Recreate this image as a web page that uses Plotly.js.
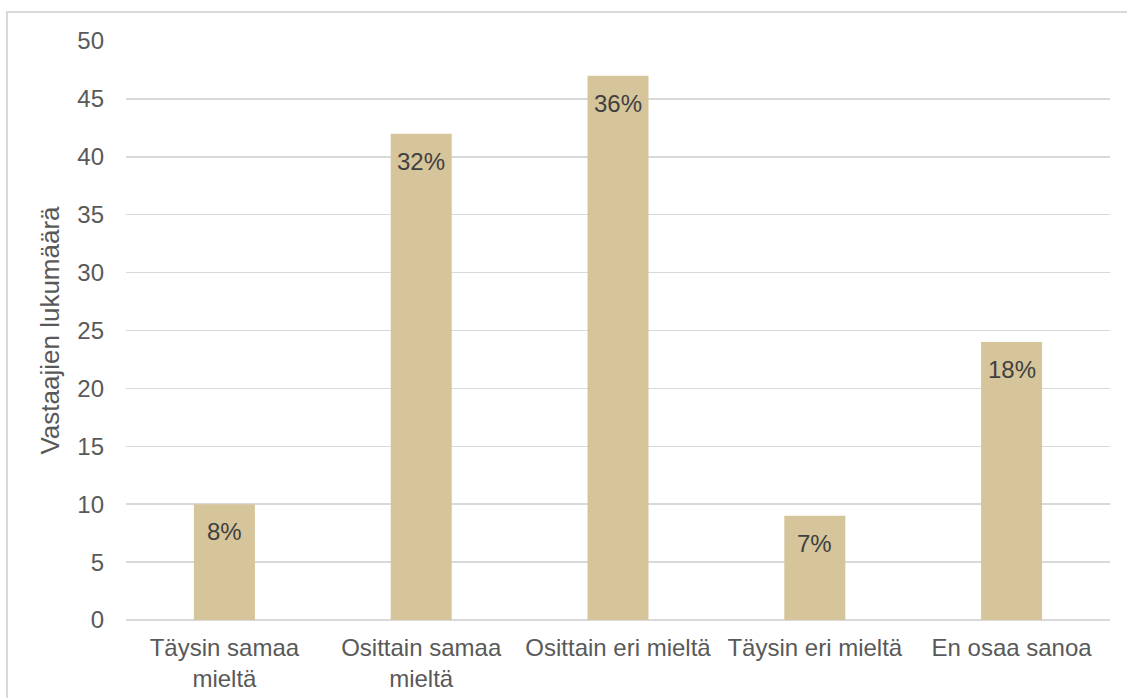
<!DOCTYPE html>
<html>
<head>
<meta charset="utf-8">
<script src="https://cdn.plot.ly/plotly-3.0.1.min.js"></script>
<style>
  html, body { margin: 0; padding: 0; background: #fff; }
  #wrap { position: relative; width: 1127px; height: 698px; overflow: hidden; }
  #chart { width: 1127px; height: 698px; }
  #frame { position: absolute; left: 6px; top: 11px; width: 1200px; height: 800px;
           border-left: 2px solid #d9d9d9; border-top: 2px solid #d9d9d9; pointer-events: none; }
</style>
</head>
<body>
<div id="wrap">
  <div id="chart"></div>
  <div id="frame"></div>
</div>
<script>
const categories = ["Täysin samaa<br>mieltä", "Osittain samaa<br>mieltä", "Osittain eri mieltä", "Täysin eri mieltä", "En osaa sanoa"];
const counts = [10, 42, 47, 9, 24];
const percentLabels = ["8%", "32%", "36%", "7%", "18%"];
const yTicks = [0, 5, 10, 15, 20, 25, 30, 35, 40, 45, 50];

const font = "Liberation Sans, Arial, sans-serif";

const trace = {
  type: "bar",
  x: categories,
  y: counts,
  marker: { color: "#D6C59B" },
  hoverinfo: "none"
};

const annotations = categories.map((c, i) => ({
  x: c, y: counts[i], xref: "x", yref: "y",
  text: percentLabels[i], showarrow: false,
  yanchor: "top", yshift: -12,
  font: { family: font, size: 24, color: "#404040" }
}));

const layout = {
  width: 1127, height: 698,
  margin: { l: 126, r: 17, t: 41, b: 78 },
  paper_bgcolor: "#fff", plot_bgcolor: "#fff",
  bargap: 0.69,
  showlegend: false,
  font: { family: font, color: "#595959" },
  xaxis: {
    type: "category",
    tickfont: { family: font, size: 24, color: "#595959" },
    ticks: "", showgrid: false, zeroline: false, showline: false,
    ticklabelstandoff: 11
  },
  yaxis: {
    range: [0, 50],
    tickvals: yTicks,
    tickfont: { family: font, size: 24, color: "#595959" },
    showgrid: true, gridcolor: "#d9d9d9", gridwidth: 1.5,
    zeroline: true, zerolinecolor: "#d9d9d9", zerolinewidth: 1.5,
    ticks: "", showline: false,
    ticklabelstandoff: 21,
    title: { text: "Vastaajien lukumäärä", font: { family: font, size: 26, color: "#595959" }, standoff: 10 }
  },
  annotations: annotations
};

Plotly.newPlot("chart", [trace], layout, { staticPlot: true, displayModeBar: false });
</script>
</body>
</html>
